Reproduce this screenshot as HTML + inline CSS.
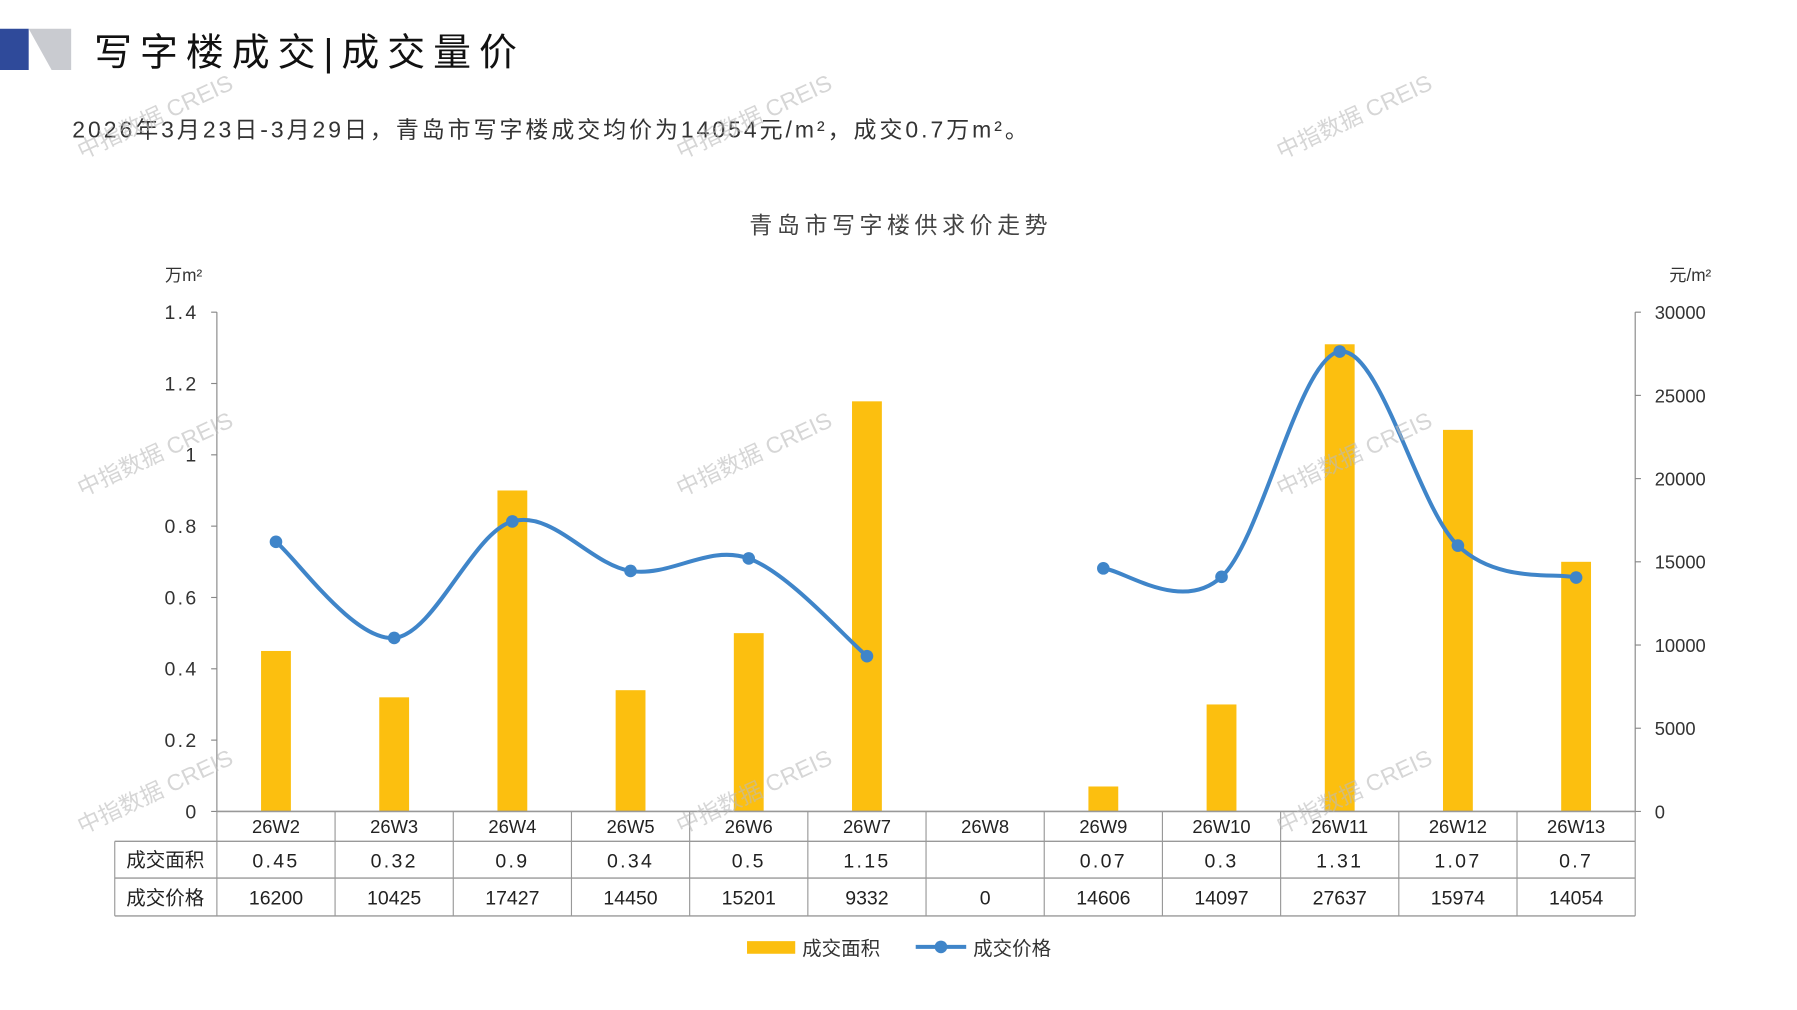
<!DOCTYPE html>
<html><head><meta charset="utf-8">
<style>
html,body{margin:0;padding:0;background:#fff;}
svg{display:block;}
text{font-family:"Liberation Sans","Noto Sans CJK SC",sans-serif;}
</style></head>
<body>
<svg id="c" width="1797" height="1010" viewBox="0 0 1566 880" preserveAspectRatio="none" xmlns="http://www.w3.org/2000/svg">
<polygon points="0,25 25,25 25,61 0,61" fill="#2f4a9a"/>
<polygon points="25,25 62,25 62,61 45,61" fill="#c9cbd0"/>
<text x="82" y="57" font-size="33" fill="#111" letter-spacing="7">写字楼成交|成交量价</text>
<text x="63" y="120" font-size="20" fill="#333" letter-spacing="2.6">2026年3月23日-3月29日，青岛市写字楼成交均价为14054元/m²，成交0.7万m²。</text>
<text x="785" y="203" font-size="20" fill="#444" text-anchor="middle" letter-spacing="4">青岛市写字楼供求价走势</text>
<text x="160" y="245" font-size="15" fill="#333" text-anchor="middle">万m²</text>
<text x="1473" y="245" font-size="15" fill="#333" text-anchor="middle">元/m²</text>
<g id="g"></g>
<g id="wm"></g>
</svg>
<script>
const categories=["26W2","26W3","26W4","26W5","26W6","26W7","26W8","26W9","26W10","26W11","26W12","26W13"];
const areaValues=[0.45,0.32,0.9,0.34,0.5,1.15,null,0.07,0.3,1.31,1.07,0.7];
const priceValues=[16200,10425,17427,14450,15201,9332,0,14606,14097,27637,15974,14054];
const leftTicks=[0,0.2,0.4,0.6,0.8,1,1.2,1.4];
const leftTickLabels=["0","0.2","0.4","0.6","0.8","1","1.2","1.4"];
const rightTicks=[0,5000,10000,15000,20000,25000,30000];
const areaLabels=["0.45","0.32","0.9","0.34","0.5","1.15","","0.07","0.3","1.31","1.07","0.7"];

const NS="http://www.w3.org/2000/svg";
const g=document.getElementById('g');
const X0=189,X1=1425,Y0=707,YT=272;
const cw=(X1-X0)/categories.length;
const xC=i=>X0+cw*(i+0.5);
const yL=v=>Y0-(v/1.4)*(Y0-YT);
const yR=v=>Y0-(v/30000)*(Y0-YT);
function el(t,a,txt){const e=document.createElementNS(NS,t);for(const k in a)e.setAttribute(k,a[k]);if(txt!==undefined)e.textContent=txt;g.appendChild(e);return e;}

let e=el('line',{x1:X0,y1:YT,x2:X0,y2:Y0,stroke:'#888','stroke-width':1});

e=el('line',{x1:X1,y1:YT,x2:X1,y2:Y0,stroke:'#888','stroke-width':1});

leftTicks.forEach((v,i)=>{
  el('line',{x1:X0-5,y1:yL(v),x2:X0,y2:yL(v),stroke:'#888'});
  const t=el('text',{x:173,y:yL(v)+6,'font-size':17,'text-anchor':'end',fill:'#333','letter-spacing':'2'},leftTickLabels[i]);
  
  
});
rightTicks.forEach(v=>{
  el('line',{x1:X1,y1:yR(v),x2:X1+5,y2:yR(v),stroke:'#888'});
  const t=el('text',{x:1442,y:yR(v)+6,'font-size':16,fill:'#333'},String(v));
  
  
});
areaValues.forEach((v,i)=>{
  if(v==null)return;
  const b=el('rect',{x:xC(i)-13,y:yL(v),width:26,height:Y0-yL(v),fill:'#fcbf0f'});
  
  
});
function seg(pts){
  let d='M'+pts[0][0]+','+pts[0][1];
  for(let i=0;i<pts.length-1;i++){
    const p0=pts[i-1]||pts[i],p1=pts[i],p2=pts[i+1],p3=pts[i+2]||p2;
    const t=0.17;
    d+=' C'+(p1[0]+(p2[0]-p0[0])*t)+','+(p1[1]+(p2[1]-p0[1])*t)+' '+(p2[0]-(p3[0]-p1[0])*t)+','+(p2[1]-(p3[1]-p1[1])*t)+' '+p2[0]+','+p2[1];
  }
  return d;
}
let groups=[],cur=[];
priceValues.forEach((v,i)=>{if(v>0)cur.push([xC(i),yR(v)]);else{if(cur.length)groups.push(cur);cur=[];}});
if(cur.length)groups.push(cur);
groups.forEach(pts=>{
  const p=el('path',{d:seg(pts),fill:'none',stroke:'#3f85c9','stroke-width':3.5});
  
  
});
priceValues.forEach((v,i)=>{
  if(v<=0)return;
  const c=el('circle',{cx:xC(i),cy:yR(v),r:5.5,fill:'#3f85c9'});
  
  
});
el('line',{x1:X0,y1:Y0,x2:X1,y2:Y0,stroke:'#999','stroke-width':1.5});
[733,765,798].forEach(y=>el('line',{x1:100,y1:y,x2:X1,y2:y,stroke:'#999','stroke-width':1.2}));
el('line',{x1:100,y1:733,x2:100,y2:798,stroke:'#999'});
for(let i=0;i<=categories.length;i++){el('line',{x1:X0+cw*i,y1:Y0,x2:X0+cw*i,y2:798,stroke:'#999'});}
categories.forEach((c,i)=>{
  let t=el('text',{x:xC(i),y:726,'font-size':16,'text-anchor':'middle',fill:'#222'},c);
  
  
  t=el('text',{x:xC(i),y:756,'font-size':17,'text-anchor':'middle',fill:'#222','letter-spacing':'2'},areaLabels[i]);
  
  
  t=el('text',{x:xC(i),y:788,'font-size':17,'text-anchor':'middle',fill:'#222'},String(priceValues[i]));
  
  
});
e=el('text',{x:144,y:755,'font-size':17,'text-anchor':'middle',fill:'#222'},'成交面积');

e=el('text',{x:144,y:788,'font-size':17,'text-anchor':'middle',fill:'#222'},'成交价格');

e=el('rect',{x:651,y:820,width:42,height:11,fill:'#fcbf0f'});

e=el('text',{x:699,y:832,'font-size':17,fill:'#333'},'成交面积');

e=el('line',{x1:798,y1:825,x2:842,y2:825,stroke:'#3f85c9','stroke-width':3.5});

el('circle',{cx:820,cy:825,r:5.5,fill:'#3f85c9'});
e=el('text',{x:848,y:832,'font-size':17,fill:'#333'},'成交价格');

const wm=document.getElementById('wm');
[[138,108],[660,108],[1183,108],[138,402],[660,402],[1183,402],[138,696],[660,696],[1183,696]].forEach(p=>{
  const t=document.createElementNS(NS,'text');
  t.setAttribute('x',p[0]);t.setAttribute('y',p[1]);
  t.setAttribute('font-size',20);t.setAttribute('fill','#bbb');t.setAttribute('opacity','0.6');
  t.setAttribute('text-anchor','middle');
  t.setAttribute('transform','rotate(-25 '+p[0]+' '+p[1]+')');
  t.textContent='中指数据 CREIS';
  
  
  wm.appendChild(t);
});
</script>
</body></html>
